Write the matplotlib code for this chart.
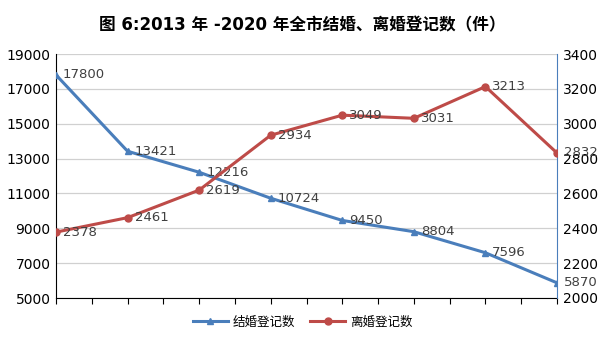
import matplotlib
matplotlib.use("Agg")
import matplotlib.pyplot as plt
import numpy as np

plt.rcParams['font.family'] = ['DejaVu Sans', 'Noto Sans CJK SC']

years = ['2013', '2014', '2015', '2016', '2017', '2018', '2019', '2020']
marriage = [17800, 13421, 12216, 10724, 9450, 8804, 7596, 5870]
divorce = [2378, 2461, 2619, 2934, 3049, 3031, 3213, 2832]
title = '图 6:2013 年 -2020 年全市结婚、离婚登记数（件）'
names = ['结婚登记数', '离婚登记数']

blue = '#4A7EBB'
red = '#BE4B48'

fig = plt.figure(figsize=(6.05, 3.4), dpi=100)
ax = fig.add_axes([56/605, 1-298/340, (557-56)/605, (298-54)/340])
ax2 = ax.twinx()

x = np.arange(len(years))
l1, = ax.plot(x, marriage, color=blue, lw=2.2, marker='^', ms=5, zorder=3)
l2, = ax2.plot(x, divorce, color=red, lw=2.2, marker='o', ms=5, zorder=3)

ax.set_xlim(0, len(years) - 1)
ax.set_ylim(5000, 19000)
ax.set_yticks(np.arange(5000, 19001, 2000))
ax2.set_ylim(2000, 3400)
ax2.set_yticks(np.arange(2000, 3401, 200))
ax.set_xticks(np.arange(0, len(years) - 0.99, 0.5))
ax.set_xticklabels([])
ax.tick_params(axis='x', direction='out', length=4, color='black', width=0.8)
ax.tick_params(axis='y', length=0, labelsize=10, pad=4)
ax2.tick_params(axis='y', length=0, labelsize=10, pad=4)
ax.grid(axis='y', color='#D0D0D0', lw=0.9)
ax.set_axisbelow(True)

for a in (ax, ax2):
    a.spines['top'].set_visible(False)
ax.spines['left'].set_color('black')
ax.spines['bottom'].set_color('black')
ax2.spines['left'].set_visible(False)
ax2.spines['bottom'].set_visible(False)
ax2.spines['right'].set_color(blue)
ax.spines['right'].set_visible(False)

for xi, v in zip(x, marriage):
    ax.annotate(str(v), (xi, v), xytext=(5, 0), textcoords='offset points',
                va='center', ha='left', fontsize=9.5, color='#404040', zorder=4)
for xi, v in zip(x, divorce):
    ax2.annotate(str(v), (xi, v), xytext=(5, 0), textcoords='offset points',
                 va='center', ha='left', fontsize=9.5, color='#404040', zorder=4)

fig.text(0.5, 1-25/340, title, ha='center', va='center', fontsize=12,
         fontweight='bold', family=['DejaVu Sans', 'Noto Sans CJK SC'])

fig.legend([l1, l2], names, loc='center', bbox_to_anchor=(0.5, 1-322/340),
           ncol=2, frameon=False, fontsize=9,
           prop={'family': ['Noto Sans CJK SC', 'DejaVu Sans'], 'size': 9},
           handlelength=2.8, columnspacing=1.2, handletextpad=0.4)

fig.savefig('out.png', dpi=100)
